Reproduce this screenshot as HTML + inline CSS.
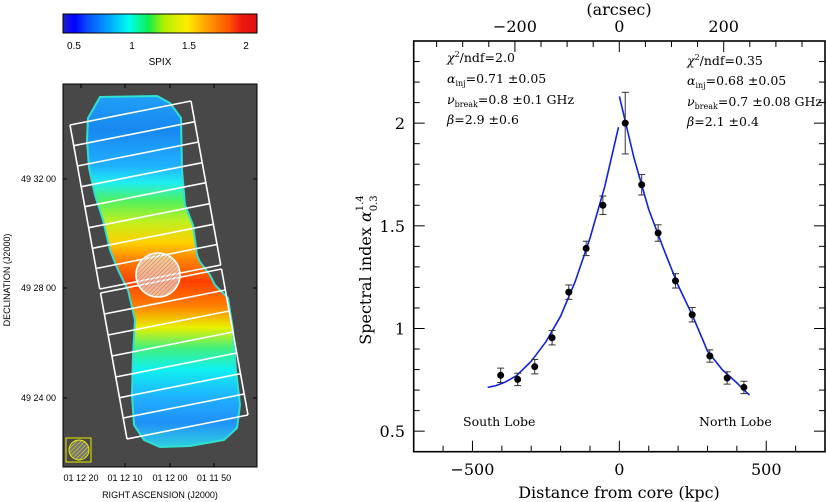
<!DOCTYPE html>
<html><head><meta charset="utf-8"><style>
html,body{margin:0;padding:0;background:#fff;width:826px;height:502px;overflow:hidden}
svg{display:block}
.sans{font-family:"Liberation Sans",sans-serif}
.serif{font-family:"DejaVu Serif","Liberation Serif",serif}
</style></head><body>
<svg id="fig" width="826" height="502" viewBox="0 0 826 502" xmlns="http://www.w3.org/2000/svg">
<defs>
<linearGradient id="cbar" x1="0" x2="1" y1="0" y2="0">
<stop offset="0" stop-color="#2020d0"/><stop offset="0.06" stop-color="#0000ff"/><stop offset="0.13" stop-color="#0a50ff"/>
<stop offset="0.24" stop-color="#00a8ff"/><stop offset="0.34" stop-color="#00ffee"/><stop offset="0.44" stop-color="#10ee50"/>
<stop offset="0.52" stop-color="#b0f000"/><stop offset="0.64" stop-color="#ffee00"/><stop offset="0.74" stop-color="#ffa000"/>
<stop offset="0.86" stop-color="#ff5000"/><stop offset="0.92" stop-color="#ee1a10"/><stop offset="1" stop-color="#dd1010"/>
</linearGradient>
<linearGradient id="blobgrad" x1="0" x2="0" y1="95" y2="447" gradientUnits="userSpaceOnUse">
<stop offset="0" stop-color="#20a0f8"/><stop offset="0.1" stop-color="#1888f0"/><stop offset="0.2" stop-color="#20b0ff"/>
<stop offset="0.25" stop-color="#20eef0"/><stop offset="0.3" stop-color="#50f060"/><stop offset="0.36" stop-color="#c0f020"/>
<stop offset="0.42" stop-color="#ffd000"/><stop offset="0.47" stop-color="#ff8000"/><stop offset="0.53" stop-color="#ff4000"/>
<stop offset="0.6" stop-color="#ff8000"/><stop offset="0.66" stop-color="#e8f000"/><stop offset="0.72" stop-color="#40f080"/>
<stop offset="0.78" stop-color="#10f0f0"/><stop offset="0.86" stop-color="#20b0ff"/><stop offset="0.93" stop-color="#2090f8"/>
<stop offset="1" stop-color="#30d0e0"/>
</linearGradient>
<pattern id="hatch" width="3" height="3" patternUnits="userSpaceOnUse" patternTransform="rotate(45)">
<rect width="3" height="3" fill="rgba(255,255,255,0.55)"/><line x1="0" y1="0" x2="0" y2="3" stroke="#888" stroke-width="1"/>
</pattern>
<pattern id="hatchy" width="3" height="3" patternUnits="userSpaceOnUse" patternTransform="rotate(45)">
<rect width="3" height="3" fill="#777"/><line x1="0" y1="0" x2="0" y2="3" stroke="#ee0" stroke-width="1"/>
</pattern>
</defs>

<g>
<rect x="63" y="14" width="194" height="19" fill="url(#cbar)" stroke="#000" stroke-width="1"/>
<g class="sans" font-size="10" text-anchor="middle" fill="#000">
<text x="74" y="49">0.5</text><text x="132" y="49">1</text><text x="189" y="49">1.5</text><text x="246" y="49">2</text>
<text x="160" y="65">SPIX</text>
</g>
</g>

<g>
<rect x="63" y="84" width="194" height="383" fill="#484848" stroke="#000" stroke-width="1"/>
<path fill="url(#blobgrad)" stroke="#30e0d0" stroke-width="2" d="M100,97 L157,96 L170,103 L181,118 L182,170 L185,205 L193,225 L197,255 L200,262 L210,275 L215,285 L228,298 L233,330 L236,370 L240,405 L237,428 L224,440 L190,446 L160,447 L144,440 L134,425 L132,395 L133,355 L135,320 L128,290 L118,270 L110,250 L103,220 L95,195 L89,168 L87,140 L88,118 Z"/>
<g id="boxes" stroke="#fff" stroke-width="1.6" fill="none"></g>
<circle cx="158" cy="275" r="22" fill="url(#hatch)" stroke="#fff" stroke-width="1.6"/>
<rect x="66" y="438" width="25" height="24" fill="none" stroke="#ee0" stroke-width="1"/>
<circle cx="79" cy="450" r="10" fill="url(#hatchy)" stroke="#ee0" stroke-width="1"/>
<g stroke="#000" stroke-width="1">
<line x1="81" y1="84" x2="81" y2="88"/><line x1="125" y1="84" x2="125" y2="88"/><line x1="170" y1="84" x2="170" y2="88"/><line x1="214" y1="84" x2="214" y2="88"/>
<line x1="125" y1="467" x2="125" y2="463"/><line x1="170" y1="467" x2="170" y2="463"/><line x1="214" y1="467" x2="214" y2="463"/>
<line x1="63" y1="179" x2="67" y2="179"/><line x1="63" y1="288" x2="67" y2="288"/><line x1="63" y1="398" x2="67" y2="398"/>
<line x1="257" y1="179" x2="253" y2="179"/><line x1="257" y1="288" x2="253" y2="288"/><line x1="257" y1="398" x2="253" y2="398"/>
</g>
<g class="sans" font-size="9" fill="#000">
<g text-anchor="end"><text x="56" y="182">49 32 00</text><text x="56" y="291">49 28 00</text><text x="56" y="401">49 24 00</text></g>
<g text-anchor="middle"><text x="81" y="481">01 12 20</text><text x="125" y="481">01 12 10</text><text x="170" y="481">01 12 00</text><text x="214" y="481">01 11 50</text>
<text x="160" y="498">RIGHT ASCENSION  (J2000)</text>
<text transform="translate(10,280) rotate(-90)">DECLINATION  (J2000)</text></g>
</g>
</g>

<g id="plot"></g>
</svg>
<script>
// ---- chart data ----
const distKpc   = [-404, -346, -288, -229, -172, -113, -56, 20, 76, 132, 191, 248, 308, 367, 424];
const spixVals  = [0.772, 0.752, 0.814, 0.955, 1.177, 1.39, 1.60, 2.00, 1.70, 1.465, 1.232, 1.067, 0.866, 0.759, 0.713];
const spixErrs  = [0.035, 0.03, 0.035, 0.035, 0.035, 0.035, 0.045, 0.15, 0.05, 0.04, 0.035, 0.035, 0.03, 0.03, 0.03];
const southFitX = [-448, -420, -390, -350, -300, -250, -200, -150, -100, -50, -3];
const southFitY = [0.713, 0.722, 0.738, 0.77, 0.84, 0.935, 1.06, 1.23, 1.44, 1.69, 1.98];
const northFitX = [0, 50, 100, 150, 200, 250, 300, 350, 400, 443];
const northFitY = [2.13, 1.83, 1.58, 1.39, 1.21, 1.06, 0.89, 0.80, 0.735, 0.675];
const xTickLabels = [-500, 0, 500];
const yTickLabels = [0.5, 1, 1.5, 2];
const topTickLabels = [-200, 0, 200];

const NS = 'http://www.w3.org/2000/svg';
const L = 413.7, R = 825, T = 41, B = 451.7;
const xMin = -700, xMax = 700, yMin = 0.4, yMax = 2.4;
function sx(v){ return L + (v - xMin) / (xMax - xMin) * (R - L); }
function sy(v){ return B - (v - yMin) / (yMax - yMin) * (B - T); }
const arcZero = 619.3, pxPerArc = 0.522;
function ax(a){ return arcZero + a * pxPerArc; }

const plot = document.getElementById('plot');
function mk(tag, attrs, parent){
  const e = document.createElementNS(NS, tag);
  for (const k in attrs) e.setAttribute(k, attrs[k]);
  (parent || plot).appendChild(e);
  return e;
}

const frame = mk('rect', {x:L, y:T, width:R-L, height:B-T, fill:'none', stroke:'#000', 'stroke-width':1.6});



const tg = mk('g', {stroke:'#000', 'stroke-width':1});
for (let v = -600; v <= 600; v += 100) {
  const len = (v % 500 === 0) ? 11 : 6;
  mk('line', {x1:sx(v), y1:B, x2:sx(v), y2:B-len}, tg);
}
for (let a = -350; a <= 350; a += 50) {
  const len = (a % 200 === 0) ? 11 : 6;
  const x = ax(a);
  if (x > L + 1 && x < R - 1) mk('line', {x1:x, y1:T, x2:x, y2:T+len}, tg);
}
for (let i = 5; i <= 23; i++) {
  const v = i / 10;
  const len = (i % 5 === 0) ? 11 : 6;
  mk('line', {x1:L, y1:sy(v), x2:L+len, y2:sy(v)}, tg);
  mk('line', {x1:R, y1:sy(v), x2:R-len, y2:sy(v)}, tg);
}

const fontAttrs = {'font-family':'"DejaVu Serif","Liberation Serif",serif', fill:'#000'};
function txt(x, y, s, size, anchor, name){
  const t = mk('text', Object.assign({x:x, y:y, 'font-size':size, 'text-anchor':anchor||'middle'}, fontAttrs));
  t.textContent = s;
  
  
  return t;
}
xTickLabels.forEach(v => txt(sx(v), 475, (v < 0 ? '\u2212' + (-v) : String(v)), 16, 'middle', 'x-tick-label'));
yTickLabels.forEach(v => txt(405, sy(v) + 6, String(v), 16, 'end', 'y-tick-label'));
topTickLabels.forEach(v => txt(ax(v), 32, (v < 0 ? '\u2212' + (-v) : String(v)), 16, 'middle', 'top-tick-label'));
txt(619, 15, '(arcsec)', 16, 'middle', 'top-axis-title');
txt(619, 498, 'Distance from core (kpc)', 16, 'middle', 'x-axis-title');

const yt = mk('text', Object.assign({transform:'translate(371,270) rotate(-90)', 'font-size':16, 'text-anchor':'middle'}, fontAttrs));


yt.innerHTML = 'Spectral index <tspan font-style="italic">α</tspan><tspan font-size="10" dy="-8">1.4</tspan><tspan font-size="10" dx="-16" dy="14">0.3</tspan>';

function fitPath(xs, ys, name){
  const p = xs.map((x,i) => (i ? 'L' : 'M') + sx(x).toFixed(1) + ',' + sy(ys[i]).toFixed(1)).join(' ');
  const e = mk('path', {d:p, fill:'none', stroke:'#1020e0', 'stroke-width':1.6, 'stroke-linejoin':'round'});
  
  
}
fitPath(southFitX, southFitY, 'south-lobe-fit');
fitPath(northFitX, northFitY, 'north-lobe-fit');

distKpc.forEach((d, i) => {
  const g = mk('g', {});
  
  
  const x = sx(d), y1 = sy(spixVals[i] + spixErrs[i]), y2 = sy(spixVals[i] - spixErrs[i]);
  mk('line', {x1:x, y1:y1, x2:x, y2:y2, stroke:'#333', 'stroke-width':1}, g);
  mk('line', {x1:x-3.5, y1:y1, x2:x+3.5, y2:y1, stroke:'#333', 'stroke-width':1}, g);
  mk('line', {x1:x-3.5, y1:y2, x2:x+3.5, y2:y2, stroke:'#333', 'stroke-width':1}, g);
  mk('circle', {cx:x, cy:sy(spixVals[i]), r:3.5, fill:'#000'}, g);
});

function ann(x, y, html, name){
  const t = mk('text', Object.assign({x:x, y:y, 'font-size':12.5}, fontAttrs));
  t.innerHTML = html;
  
  
}
ann(447, 62, '<tspan font-style="italic">χ</tspan><tspan font-size="8" dy="-5">2</tspan><tspan dy="5">/ndf=2.0</tspan>', 'south-chi2');
ann(447, 83, '<tspan font-style="italic">α</tspan><tspan font-size="8" dy="3">inj</tspan><tspan dy="-3">=0.71 ±0.05</tspan>', 'south-alpha-inj');
ann(447, 104, '<tspan font-style="italic">ν</tspan><tspan font-size="8" dy="3">break</tspan><tspan dy="-3">=0.8 ±0.1 GHz</tspan>', 'south-nu-break');
ann(447, 124, '<tspan font-style="italic">β</tspan>=2.9 ±0.6', 'south-beta');
ann(687, 65, '<tspan font-style="italic">χ</tspan><tspan font-size="8" dy="-5">2</tspan><tspan dy="5">/ndf=0.35</tspan>', 'north-chi2');
ann(687, 85, '<tspan font-style="italic">α</tspan><tspan font-size="8" dy="3">inj</tspan><tspan dy="-3">=0.68 ±0.05</tspan>', 'north-alpha-inj');
ann(687, 106, '<tspan font-style="italic">ν</tspan><tspan font-size="8" dy="3">break</tspan><tspan dy="-3">=0.7 ±0.08 GHz</tspan>', 'north-nu-break');
ann(687, 126, '<tspan font-style="italic">β</tspan>=2.1 ±0.4', 'north-beta');
txt(463, 426, 'South Lobe', 12.5, 'start', 'south-lobe-label');
txt(699, 426, 'North Lobe', 12.5, 'start', 'north-lobe-label');

const boxes = document.getElementById('boxes');
const rowsY = [125,145.7,166,186.7,206.7,227.7,248.3,268.5,289, 293,314,335,356,377,397.7,418,439];
const dxPerY = 57/314, ux = 121, uy = -24;
function leftX(y){ return 70 + (y - 125) * dxPerY; }
rowsY.forEach(y => {
  const x = leftX(y);
  mk('line', {x1:x, y1:y, x2:x+ux, y2:y+uy}, boxes);
});
[[125,289],[293,439]].forEach(([a,b]) => {
  mk('line', {x1:leftX(a), y1:a, x2:leftX(b), y2:b}, boxes);
  mk('line', {x1:leftX(a)+ux, y1:a+uy, x2:leftX(b)+ux, y2:b+uy}, boxes);
});
</script>
</body></html>
